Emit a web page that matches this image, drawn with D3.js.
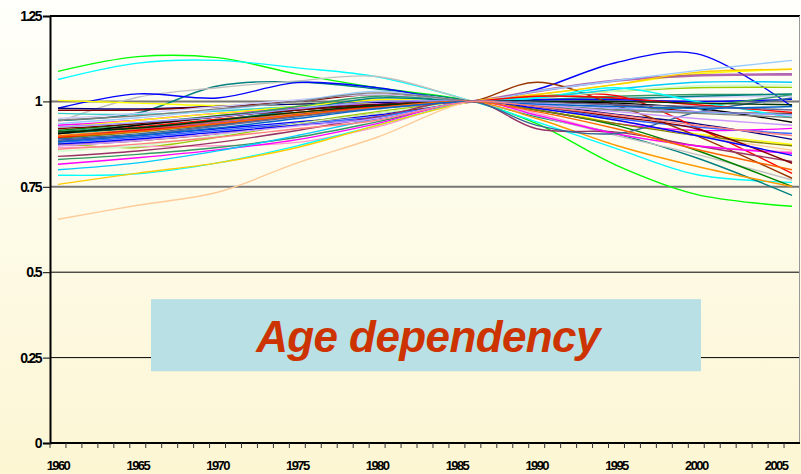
<!DOCTYPE html>
<html>
<head>
<meta charset="utf-8">
<script src="https://cdn.jsdelivr.net/npm/d3@7"></script>
<style>
  html, body { margin: 0; padding: 0; background: #fdfbe6; }
  svg { display: block; }
</style>
</head>
<body>
<svg id="chart" width="801" height="474"></svg>
<script>
// ---------- data ----------
const keyYears = [1960, 1965, 1970, 1975, 1980, 1986, 1990, 1995, 2000, 2006];
const allYears = d3.range(1960, 2007);
const yTickValues = [0, 0.25, 0.5, 0.75, 1, 1.25];
const yTickLabels = ["0", "0.25", "0.5", "0.75", "1", "1.25"];
const xLabelYears = [1960, 1965, 1970, 1975, 1980, 1985, 1990, 1995, 2000, 2005];
const titleText = "Age dependency";

const seriesColors = [
  "#00ff00", "#00ffff", "#008080", "#c0c0c0", "#0000ff", "#ffff00", "#000080", "#800000",
  "#33cccc", "#ccccff", "#ff00ff", "#ffff00", "#008000", "#339966", "#ff0000", "#008080",
  "#ff9900", "#993399", "#808000", "#0000ff", "#3366ff", "#99cc00", "#993300", "#ff99cc",
  "#ccffcc", "#993366", "#339966", "#ff00ff", "#00ccff", "#00ffff", "#ffcc00", "#ffcc99",
  "#99ccff", "#000000", "#336699", "#800000", "#0000ff", "#ff0000", "#808080", "#9999ff",
  "#003300", "#ff6600", "#666699", "#cc99ff", "#0066cc", "#ff8080"
];

const s01 = [1.088, 1.131, 1.128, 1.080, 1.040, 1, 0.935, 0.813, 0.728, 0.693];
const s02 = [1.064, 1.112, 1.120, 1.098, 1.072, 1, 0.940, 0.862, 0.786, 0.763];
const s03 = [0.944, 0.966, 1.045, 1.057, 1.036, 1, 0.955, 0.905, 0.835, 0.725];
const s04 = [0.940, 1.012, 1.040, 1.060, 1.073, 1, 0.958, 0.900, 0.845, 0.770];
const s05 = [0.980, 1.022, 1.010, 1.055, 1.040, 1, 1.035, 1.114, 1.140, 0.985];
const s06 = [1.003, 0.995, 0.988, 0.992, 0.996, 1, 0.985, 0.935, 0.905, 0.874];
const s07 = [0.980, 0.978, 0.985, 0.992, 0.997, 1, 0.990, 0.962, 0.935, 0.889];
const s08 = [0.974, 0.975, 0.985, 1.000, 1.020, 1, 1.000, 0.990, 0.970, 0.965];
const s09 = [0.965, 0.962, 0.972, 0.985, 0.992, 1, 0.990, 0.975, 0.968, 0.962];
const s10 = [0.950, 0.965, 0.985, 1.005, 1.020, 1, 1.005, 1.010, 1.012, 1.015];
const s11 = [0.930, 0.945, 0.965, 0.980, 0.992, 1, 0.975, 0.935, 0.915, 0.921];
const s12 = [0.924, 0.945, 0.965, 0.985, 1.005, 1, 1.020, 1.050, 1.080, 1.094];
const s13 = [0.915, 0.935, 0.958, 0.978, 0.990, 1, 0.975, 0.930, 0.857, 0.751];
const s14 = [0.912, 0.930, 0.955, 0.985, 1.015, 1, 1.005, 1.015, 1.020, 1.020];
const s15 = [0.906, 0.925, 0.948, 0.968, 0.985, 1, 1.010, 1.017, 0.924, 0.789];
const s16 = [0.906, 0.922, 0.945, 0.975, 1.010, 1, 1.005, 1.008, 1.015, 1.022];
const s17 = [0.900, 0.918, 0.942, 0.965, 0.984, 1, 0.950, 0.871, 0.810, 0.751];
const s18 = [0.895, 0.915, 0.938, 0.960, 0.982, 1, 1.030, 1.061, 1.076, 1.079];
const s19 = [0.892, 0.910, 0.932, 0.958, 0.980, 1, 0.975, 0.935, 0.900, 0.870];
const s20 = [0.886, 0.900, 0.920, 0.940, 0.960, 1, 1.005, 1.005, 1.000, 1.006];
const s21 = [0.880, 0.895, 0.915, 0.935, 0.955, 1, 0.985, 0.950, 0.925, 0.906];
const s22 = [0.877, 0.865, 0.895, 0.935, 0.970, 1, 1.015, 1.030, 1.040, 1.041];
const s23 = [0.871, 0.885, 0.905, 0.935, 0.965, 1, 1.056, 0.988, 0.900, 0.775];
const s24 = [0.865, 0.868, 0.870, 0.880, 0.925, 1, 0.965, 0.905, 0.870, 0.852];
const s25 = [0.854, 0.870, 0.900, 0.935, 0.965, 1, 1.010, 1.030, 1.045, 1.048];
const s26 = [0.839, 0.855, 0.880, 0.915, 0.955, 1, 0.920, 0.910, 0.870, 0.824];
const s27 = [0.830, 0.845, 0.865, 0.895, 0.940, 1, 0.985, 0.975, 0.985, 1.020];
const s28 = [0.816, 0.835, 0.858, 0.888, 0.935, 1, 0.960, 0.905, 0.870, 0.848];
const s29 = [0.800, 0.820, 0.855, 0.900, 0.950, 1, 1.010, 1.036, 1.056, 1.056];
const s30 = [0.784, 0.788, 0.820, 0.870, 0.930, 1, 1.010, 1.040, 1.000, 0.953];
const s31 = [0.757, 0.790, 0.820, 0.865, 0.930, 1, 1.020, 1.050, 1.085, 1.094];
const s32 = [0.655, 0.696, 0.734, 0.820, 0.895, 1, 0.980, 0.945, 0.900, 0.857];
const s33 = [0.935, 0.952, 0.975, 1.000, 1.030, 1, 1.030, 1.061, 1.090, 1.120];
const s34 = [0.905, 0.930, 0.955, 0.975, 0.990, 1, 1.000, 0.995, 0.980, 0.939];
const s35 = [0.890, 0.905, 0.930, 0.960, 0.985, 1, 0.930, 0.906, 0.968, 1.010];
const s36 = [0.920, 0.935, 0.955, 0.975, 0.990, 1, 0.985, 0.955, 0.920, 0.819];
const s37 = [0.875, 0.890, 0.910, 0.930, 0.950, 1, 0.980, 0.945, 0.900, 0.842];
const s38 = [0.895, 0.915, 0.935, 0.960, 0.985, 1, 1.015, 1.010, 0.990, 0.968];
const s39 = [0.945, 0.958, 0.978, 1.000, 1.025, 1, 0.990, 0.975, 0.965, 0.953];
const s40 = [0.925, 0.938, 0.955, 0.978, 1.000, 1, 0.995, 0.980, 0.970, 0.960];
const s41 = [0.910, 0.922, 0.945, 0.968, 0.988, 1, 1.000, 1.000, 0.995, 0.990];
const s42 = [0.898, 0.912, 0.935, 0.960, 0.982, 1, 0.970, 0.920, 0.860, 0.800];
const s43 = [0.885, 0.900, 0.928, 0.955, 0.980, 1, 0.998, 0.990, 0.985, 0.975];
const s44 = [0.870, 0.885, 0.905, 0.928, 0.950, 1, 0.990, 0.970, 0.950, 0.930];
const s45 = [0.882, 0.900, 0.922, 0.950, 0.978, 1, 0.992, 0.985, 0.980, 0.985];
const s46 = [0.860, 0.875, 0.895, 0.920, 0.945, 1, 0.985, 0.960, 0.930, 0.900];

const seriesValues = [s01,s02,s03,s04,s05,s06,s07,s08,s09,s10,s11,s12,s13,s14,s15,s16,
  s17,s18,s19,s20,s21,s22,s23,s24,s25,s26,s27,s28,s29,s30,s31,s32,s33,s34,s35,s36,s37,
  s38,s39,s40,s41,s42,s43,s44,s45,s46];

// ---------- layout ----------
const W = 801, H = 474;
const margin = { left: 50, right: 1, top: 16, bottom: 31 };
const svg = d3.select("#chart");

const defs = svg.append("defs");
const grad = defs.append("linearGradient").attr("id", "bg").attr("x1", 0).attr("y1", 0).attr("x2", 0).attr("y2", 1);
grad.append("stop").attr("offset", "0%").attr("stop-color", "#fffffb");
grad.append("stop").attr("offset", "100%").attr("stop-color", "#fcf6d3");
svg.append("rect").attr("width", W).attr("height", H).attr("fill", "url(#bg)");

const x = d3.scaleBand().domain(allYears).range([margin.left, W - margin.right]).padding(0);
const y = d3.scaleLinear().domain([0, 1.25]).range([H - margin.bottom, margin.top]);
const xc = yr => x(yr) + x.bandwidth() / 2;

// gridlines
const gridStyle = { 0.25: ["#000", 1], 0.5: ["#000", 1], 0.75: ["#777", 2], 1: ["#777", 2] };
svg.append("g").selectAll("line").data([0.25, 0.5, 0.75, 1]).join("line")
  .attr("x1", margin.left).attr("x2", W - margin.right)
  .attr("y1", d => y(d)).attr("y2", d => y(d))
  .attr("stroke", d => gridStyle[d][0]).attr("stroke-width", d => gridStyle[d][1]);

// top border and right border
svg.append("line").attr("x1", margin.left).attr("x2", W - margin.right)
  .attr("y1", y(1.25)).attr("y2", y(1.25)).attr("stroke", "#000").attr("stroke-width", 2);
svg.append("line").attr("x1", W - margin.right - 0.5).attr("x2", W - margin.right - 0.5)
  .attr("y1", y(1.25)).attr("y2", y(0)).attr("stroke", "#999").attr("stroke-width", 1);

// series lines
const line = d3.line()
  .x((d, i) => xc(keyYears[i]))
  .y(d => y(d))
  .curve(d3.curveCatmullRom.alpha(0.5));

svg.append("g").selectAll("path").data(seriesValues).join("path")
  .attr("d", d => line(d))
  .attr("fill", "none")
  .attr("stroke", (d, i) => seriesColors[i])
  .attr("stroke-width", (d, i) => seriesColors[i] === "#993399" ? 2.6 : 1.4)
  .attr("stroke-opacity", (d, i) => seriesColors[i] === "#993399" ? 0.75 : 1);

// title box
svg.append("rect")
  .attr("x", 151).attr("y", y(0.421))
  .attr("width", 550).attr("height", y(0.21) - y(0.421))
  .attr("fill", "#b9e0e4");
svg.append("text")
  .attr("x", 428).attr("y", 352)
  .attr("text-anchor", "middle")
  .attr("font-family", "Liberation Sans, Arial, sans-serif")
  .attr("font-weight", "bold").attr("font-style", "italic")
  .attr("font-size", 44)
  .attr("letter-spacing", "-0.6px")
  .attr("fill", "#cc3300")
  .text(titleText);

// y axis
const yAxis = d3.axisLeft(y).tickValues(yTickValues)
  .tickFormat((d, i) => yTickLabels[i]).tickSize(7).tickPadding(2);
const gy = svg.append("g").attr("transform", `translate(${margin.left},0)`).call(yAxis);
gy.select(".domain").attr("stroke", "#000").attr("stroke-width", 2);
gy.selectAll(".tick line").attr("stroke", "#000");
gy.selectAll("text")
  .attr("font-family", "Liberation Sans, Arial, sans-serif")
  .attr("font-weight", "bold").attr("font-size", 14)
  .attr("letter-spacing", "-1.6px")
  .attr("fill", "#000");

// x axis: ticks at band boundaries
const boundaries = allYears.map(yr => x(yr));
const gx = svg.append("g");
gx.append("line").attr("x1", margin.left).attr("x2", W - margin.right)
  .attr("y1", y(0)).attr("y2", y(0)).attr("stroke", "#000").attr("stroke-width", 2);
gx.selectAll("line.tk").data(boundaries).join("line").attr("class", "tk")
  .attr("x1", d => d).attr("x2", d => d)
  .attr("y1", y(0)).attr("y2", y(0) + 5)
  .attr("stroke", "#333").attr("stroke-width", 1);
gx.selectAll("text").data(xLabelYears).join("text")
  .attr("x", d => xc(d)).attr("y", 470)
  .attr("text-anchor", "middle")
  .attr("font-family", "Liberation Sans, Arial, sans-serif")
  .attr("font-weight", "bold").attr("font-size", 13)
  .attr("letter-spacing", "-1.6px")
  .attr("fill", "#000")
  .text(d => d);
</script>
</body>
</html>
